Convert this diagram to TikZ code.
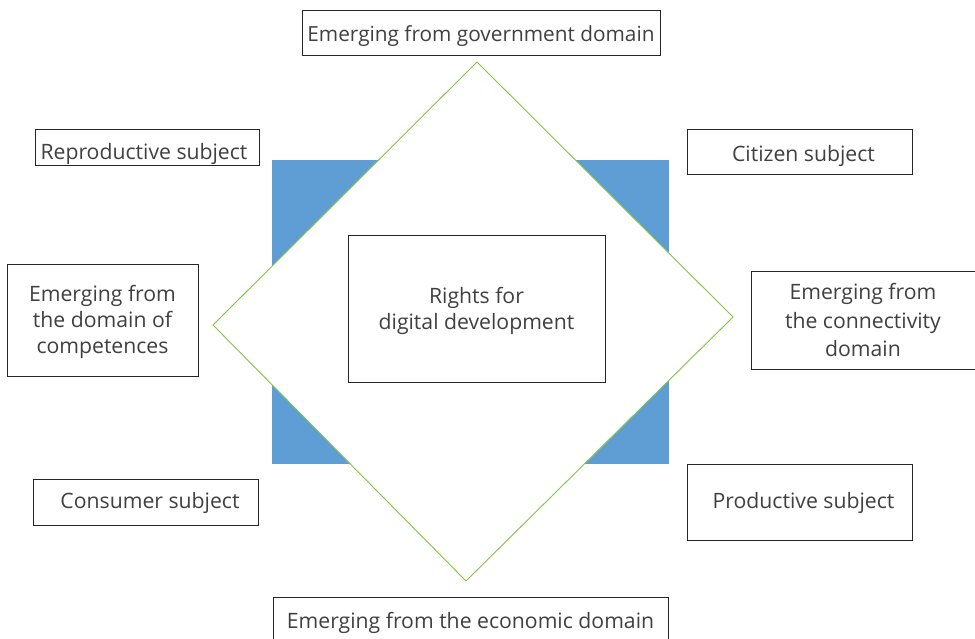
\documentclass[tikz,border=0pt]{standalone}
\usepackage{fontspec}
\setmainfont{Open Sans}
\definecolor{squareblue}{HTML}{5F9ED5}
\definecolor{diamondgreen}{HTML}{82C341}
\definecolor{textgrey}{HTML}{404040}
\begin{document}
\begin{tikzpicture}[x=1pt,y=-1pt,
  frame box/.style={draw=black!85, line width=0.9pt, fill=white, inner sep=0pt},
  caption/.style={inner sep=0pt, align=center, text=textgrey,
    font=\fontsize{21.2}{26}\selectfont},
  wide lines/.style={font=\fontsize{21.2}{28.5}\selectfont},
  snug/.style={font=\fontsize{20.8}{26}\selectfont},
]
\useasboundingbox (0,0) rectangle (975,639);

% blue square behind the diamond
\fill[squareblue] (272,160) rectangle (669,464);

% diamond corners
\coordinate (dtop) at (477,62);
\coordinate (dright) at (733,317);
\coordinate (dbottom) at (466,581);
\coordinate (dleft) at (213,325);
\draw[diamondgreen, line width=0.9pt, fill=white, line join=miter]
  (dtop) -- (dright) -- (dbottom) -- (dleft) -- cycle;

% central box
\node[frame box, minimum width=257, minimum height=147,
  label={[caption, yshift=-2.5]center:{Rights for\\digital development}}]
  (center) at (476.5,308.5) {};

% outer boxes
\node[frame box, minimum width=358, minimum height=45,
  label={[caption, snug, yshift=-4]center:{Emerging from government domain}}]
  (gov) at (481,32.5) {};
\node[frame box, minimum width=224, minimum height=36,
  label={[caption, xshift=-3, yshift=-6.5]center:{Reproductive subject}}]
  (repro) at (147,147) {};
\node[frame box, minimum width=225, minimum height=45,
  label={[caption, xshift=4, yshift=-4]center:{Citizen subject}}]
  (citizen) at (799.5,151.5) {};
\node[frame box, minimum width=191, minimum height=112,
  label={[caption, yshift=-2]center:{Emerging from\\the domain of\\competences}}]
  (comp) at (102.5,320) {};
\node[frame box, minimum width=224, minimum height=98,
  label={[caption, wide lines, yshift=0]center:{Emerging from\\the connectivity\\domain}}]
  (conn) at (863,320) {};
\node[frame box, minimum width=225, minimum height=46,
  label={[caption, xshift=4.5, yshift=-1]center:{Consumer subject}}]
  (consumer) at (145.5,502) {};
\node[frame box, minimum width=225, minimum height=76,
  label={[caption, xshift=4, yshift=-1]center:{Productive subject}}]
  (productive) at (799.5,502) {};
\node[frame box, minimum width=395, minimum height=60, anchor=north,
  label={[caption, yshift=5]center:{Emerging from the economic domain}}]
  (econ) at (470.5,597) {};
\end{tikzpicture}
\end{document}
